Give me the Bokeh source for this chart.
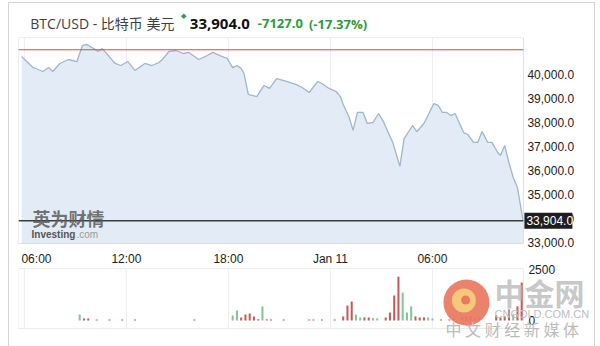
import pandas as pd
from bokeh.plotting import figure
from bokeh.layouts import column
from bokeh.models import Range1d
from bokeh.embed import file_html
from bokeh.resources import INLINE
from bokeh.core.properties import value

# ---------------- data ----------------
price_times = [
    "2021-01-10 05:50", "2021-01-10 06:30", "2021-01-10 06:40", "2021-01-10 07:05", "2021-01-10 07:25",
    "2021-01-10 07:40", "2021-01-10 08:05", "2021-01-10 08:35", "2021-01-10 09:05", "2021-01-10 09:25",
    "2021-01-10 09:40", "2021-01-10 10:05", "2021-01-10 10:20", "2021-01-10 10:35", "2021-01-10 11:20",
    "2021-01-10 11:40", "2021-01-10 12:05", "2021-01-10 12:30", "2021-01-10 13:05", "2021-01-10 13:30",
    "2021-01-10 13:55", "2021-01-10 14:10", "2021-01-10 14:30", "2021-01-10 14:55", "2021-01-10 15:20",
    "2021-01-10 15:40", "2021-01-10 16:15", "2021-01-10 16:45", "2021-01-10 17:05", "2021-01-10 17:30",
    "2021-01-10 17:55", "2021-01-10 18:15", "2021-01-10 18:30", "2021-01-10 18:45", "2021-01-10 18:55",
    "2021-01-10 19:10", "2021-01-10 19:40", "2021-01-10 20:05", "2021-01-10 20:25", "2021-01-10 20:50",
    "2021-01-10 21:25", "2021-01-10 22:00", "2021-01-10 22:20", "2021-01-10 22:45", "2021-01-10 23:15",
    "2021-01-10 23:30", "2021-01-10 23:55", "2021-01-11 00:20", "2021-01-11 00:35", "2021-01-11 00:45",
    "2021-01-11 01:05", "2021-01-11 01:20", "2021-01-11 01:35", "2021-01-11 01:55", "2021-01-11 02:10",
    "2021-01-11 02:30", "2021-01-11 02:50", "2021-01-11 03:05", "2021-01-11 03:40", "2021-01-11 04:05",
    "2021-01-11 04:20", "2021-01-11 04:50", "2021-01-11 05:05", "2021-01-11 05:30", "2021-01-11 06:05",
    "2021-01-11 06:20", "2021-01-11 06:35", "2021-01-11 06:50", "2021-01-11 07:05", "2021-01-11 07:20",
    "2021-01-11 07:50", "2021-01-11 08:05", "2021-01-11 08:25", "2021-01-11 08:40", "2021-01-11 08:55",
    "2021-01-11 09:15", "2021-01-11 09:30", "2021-01-11 09:50", "2021-01-11 10:00", "2021-01-11 10:15",
    "2021-01-11 10:30", "2021-01-11 10:45", "2021-01-11 11:00", "2021-01-11 11:20",
]
price_values = [
    40750, 40290, 40250, 40125, 40290,
    40125, 40460, 40625, 40540, 41210,
    41250, 41080, 40960, 41080, 40460,
    40375, 40540, 40170, 40460, 40375,
    40500, 40670, 40960, 41000, 40875,
    40920, 40625, 40790, 40920, 40790,
    40670, 40290, 40375, 40250, 40040,
    39170, 39080, 39540, 39420, 39830,
    39710, 39580, 39460, 39250, 39710,
    39625, 39420, 39290, 39080, 38750,
    38250, 37670, 38420, 38420, 37960,
    38000, 38375, 38080, 37170, 36170,
    37330, 37875, 37625, 37960, 38790,
    38710, 38420, 38420, 38290, 38375,
    37580, 37500, 37170, 37170, 37625,
    37170, 37170, 36750, 36625, 37040,
    36330, 35710, 35290, 33904,
]
prev_close = 41031.0
last_price = 33904.0
change = -7127.0
change_pct = -17.37

vol_times = [
    "2021-01-10 09:15", "2021-01-10 09:30", "2021-01-10 09:45", "2021-01-10 10:15", "2021-01-10 11:00",
    "2021-01-10 11:45", "2021-01-10 12:30", "2021-01-10 16:00", "2021-01-10 18:15", "2021-01-10 18:30",
    "2021-01-10 18:45", "2021-01-10 19:00", "2021-01-10 19:15", "2021-01-10 19:30", "2021-01-10 19:45",
    "2021-01-10 20:00", "2021-01-10 20:15", "2021-01-10 20:30", "2021-01-10 21:15", "2021-01-10 22:45",
    "2021-01-10 23:00", "2021-01-10 23:30", "2021-01-11 00:15", "2021-01-11 00:45", "2021-01-11 01:00",
    "2021-01-11 01:15", "2021-01-11 01:30", "2021-01-11 01:45", "2021-01-11 02:00", "2021-01-11 02:15",
    "2021-01-11 02:30", "2021-01-11 02:45", "2021-01-11 03:15", "2021-01-11 03:30", "2021-01-11 03:45",
    "2021-01-11 04:00", "2021-01-11 04:15", "2021-01-11 04:30", "2021-01-11 04:45", "2021-01-11 05:00",
    "2021-01-11 05:15", "2021-01-11 05:30", "2021-01-11 05:45", "2021-01-11 06:00", "2021-01-11 06:30",
    "2021-01-11 07:00", "2021-01-11 07:15", "2021-01-11 07:45", "2021-01-11 08:00", "2021-01-11 08:15",
    "2021-01-11 08:30", "2021-01-11 08:45", "2021-01-11 09:45", "2021-01-11 10:00", "2021-01-11 10:15",
    "2021-01-11 10:30", "2021-01-11 10:45", "2021-01-11 11:00", "2021-01-11 11:15",
]
vol_values = [
    290, 100, 100, 50, 50,
    50, 50, 50, 250, 490,
    150, 290, 340, 200, 60,
    690, 60, 50, 50, 50,
    50, 50, 50, 200, 735,
    930, 290, 150, 150, 150,
    120, 100, 150, 390, 1225,
    2150, 1370, 390, 690, 200,
    150, 150, 150, 100, 50,
    50, 150, 150, 200, 200,
    120, 200, 250, 150, 200,
    540, 300, 690, 1860,
]
vol_dir = [
    1, -1, -1, -1, -1,
    -1, -1, -1, 1, 1,
    -1, -1, -1, -1, -1,
    1, -1, -1, -1, -1,
    -1, -1, -1, -1, -1,
    -1, 1, 1, -1, -1,
    1, 1, -1, -1, -1,
    -1, 1, 1, 1, -1,
    -1, -1, 1, 1, -1,
    -1, 1, -1, -1, -1,
    -1, 1, -1, -1, -1,
    -1, 1, -1, -1,
]

tick_hours = [6, 12, 18, 24, 30]
tick_labels = ["06:00", "12:00", "18:00", "Jan 11", "06:00"]
price_ticks = [33000, 34000, 35000, 36000, 37000, 38000, 39000, 40000]
vol_ticks = [0, 2500]

# ---------------- helpers / layout constants ----------------
t0 = pd.Timestamp("2021-01-10 00:00")


def hours(ts):
    return [(pd.Timestamp(t) - t0).total_seconds() / 3600.0 for t in ts]


px = hours(price_times)
vx = hours(vol_times)

PX_PER_H = 17.0
X0, X1 = 5.65, 35.35                  # plotted time window (hours since Jan 10 00:00)
XMAX = X0 + 576 / PX_PER_H            # frame extends under the right-hand labels
P_PER_PX = 41.667                     # price units per pixel
P_LO, P_HI = 32958, 41542             # price plot box
P_FRAME_LO = P_LO - 7 * P_PER_PX      # frame reaches a little below the box
V_PER_PX = 49.02                      # volume units per pixel
V_LO, V_HI = -26 * V_PER_PX, 70 * V_PER_PX
V_BOX_LO, V_BOX_HI = -8 * V_PER_PX, 52 * V_PER_PX

AXIS_FONT = "Liberation Sans, Arial, sans-serif"
TITLE_FONT = "Open Sans, Noto Sans CJK SC, sans-serif"
CJK_FONT = "Noto Sans CJK SC, sans-serif"


def dx(pixels):
    return pixels / PX_PER_H


def style(fig):
    fig.background_fill_color = "white"
    fig.border_fill_color = "white"
    fig.outline_line_color = None
    fig.xgrid.grid_line_color = None
    fig.ygrid.grid_line_color = None


# ---------------- header ----------------
h = figure(width=585, height=33, x_range=Range1d(0, 585), y_range=Range1d(0, 33),
           output_backend="svg", toolbar_location=None, title=None,
           x_axis_location=None, y_axis_location=None,
           min_border_left=0, min_border_right=0, min_border_top=0, min_border_bottom=0)
style(h)
hy = 13
h.text(x=[12], y=[hy], text=["BTC/USD - 比特币 美元"], text_font=value(TITLE_FONT),
       text_font_size="14px", text_color="#3e3e3e", text_baseline="middle")
h.text(x=[165], y=[21], text=["◆"], text_font=value(AXIS_FONT),
       text_font_size="7px", text_color="#2c9c4a", text_baseline="middle")
h.text(x=[174], y=[hy], text=[f"{last_price:,.1f}"], text_font=value(TITLE_FONT),
       text_font_size="15px", text_font_style="bold", text_color="#111111", text_baseline="middle")
h.text(x=[243], y=[hy], text=[f"{change:.1f}"], text_font=value(TITLE_FONT),
       text_font_size="13px", text_font_style="bold", text_color="#2e9a3c", text_baseline="middle")
h.text(x=[295], y=[hy], text=[f"({change_pct:.2f}%)"], text_font=value(TITLE_FONT),
       text_font_size="13px", text_font_style="bold", text_color="#2e9a3c", text_baseline="middle")

# ---------------- price figure ----------------
p = figure(width=585, height=214, x_range=Range1d(X0, XMAX), y_range=Range1d(P_FRAME_LO, P_HI),
           output_backend="svg", toolbar_location=None, title=None,
           x_axis_location=None, y_axis_location=None,
           min_border_left=9, min_border_right=0, min_border_top=1, min_border_bottom=0)
style(p)

p.segment(x0=tick_hours, y0=P_LO, x1=tick_hours, y1=P_HI, line_color="#eceff3", line_width=1)
p.varea(x=px, y1=P_LO, y2=price_values, fill_color="#e3ecf6")
p.line(px, price_values, line_color="#9fb6cb", line_width=1.3)
p.quad(left=X0, right=X1, bottom=P_LO, top=P_HI, fill_color=None, line_color="#dedede", line_width=1)

p.segment(x0=X0, y0=prev_close, x1=X1, y1=prev_close, line_color="#cc4d4d", line_width=1.2)
p.segment(x0=X0, y0=last_price, x1=X1, y1=last_price, line_color="#3c3c3c", line_width=1.5)

# price axis labels
p.text(x=[X1 + dx(4)] * len(price_ticks), y=price_ticks,
       text=[f"{t:,.1f}" for t in price_ticks], text_font=value(AXIS_FONT),
       text_font_size="12px", text_color="#222222", text_baseline="middle")
# current price tag
p.quad(left=X1 + dx(1), right=X1 + dx(49), bottom=last_price - 8 * P_PER_PX,
       top=last_price + 8 * P_PER_PX, fill_color="#1e1e1e", line_color=None)
p.text(x=[X1 + dx(3)], y=[last_price], text=[f"{last_price:,.1f}"], text_font=value(AXIS_FONT),
       text_font_size="12px", text_color="white", text_baseline="middle")

# watermark (Investing)
p.text(x=[X0 + dx(14)], y=[P_LO + 26 * P_PER_PX], text=["英为财情"], text_font=value(CJK_FONT),
       text_font_size="18px", text_font_style="bold", text_color="#5c5c5c", text_alpha=0.85,
       text_baseline="middle")
p.text(x=[X0 + dx(13)], y=[P_LO + 9 * P_PER_PX], text=["Investing"], text_font=value(AXIS_FONT),
       text_font_size="10px", text_font_style="bold", text_color="#555555", text_baseline="middle")
p.text(x=[X0 + dx(58)], y=[P_LO + 9 * P_PER_PX], text=[".com"], text_font=value(AXIS_FONT),
       text_font_size="10px", text_color="#9a9a9a", text_baseline="middle")

# ---------------- volume figure ----------------
v = figure(width=585, height=96, x_range=Range1d(X0, XMAX), y_range=Range1d(V_LO, V_HI),
           output_backend="svg", toolbar_location=None, title=None,
           x_axis_location=None, y_axis_location=None,
           min_border_left=9, min_border_right=0, min_border_top=0, min_border_bottom=0)
style(v)

v.segment(x0=tick_hours, y0=V_BOX_LO, x1=tick_hours, y1=V_BOX_HI, line_color="#eeeeee", line_width=1)
v.quad(left=X0, right=X1, bottom=V_BOX_LO, top=V_BOX_HI, fill_color=None, line_color="#ececec")

bar_colors = ["#86c29b" if d > 0 else "#c65a5a" for d in vol_dir]
v.vbar(x=vx, top=vol_values, bottom=0, width=0.12, fill_color=bar_colors, line_color=None)

# time axis labels (first label kept inside the box, as in the original)
lab_y = V_HI - 8 * V_PER_PX
v.text(x=[tick_hours[0] - dx(3)], y=[lab_y], text=[tick_labels[0]], text_font=value(AXIS_FONT),
       text_font_size="12px", text_color="#222222", text_baseline="middle", text_align="left")
v.text(x=tick_hours[1:], y=[lab_y] * (len(tick_hours) - 1), text=tick_labels[1:],
       text_font=value(AXIS_FONT), text_font_size="12px", text_color="#222222",
       text_baseline="middle", text_align="center")

# volume axis labels
v.text(x=[X1 + dx(5)] * len(vol_ticks), y=vol_ticks, text=[str(t) for t in vol_ticks],
       text_font=value(AXIS_FONT), text_font_size="12px", text_color="#222222",
       text_baseline="middle")

# watermark (cngold)
v.scatter(x=[32.0], y=[880], size=46, marker="circle", fill_color="#e9785f", line_color=None, fill_alpha=0.92)
v.scatter(x=[31.85], y=[980], size=24, marker="circle", fill_color="#f6c879", line_color=None)
v.scatter(x=[31.95], y=[1000], size=9, marker="circle", fill_color="#e9785f", line_color=None)
v.text(x=[X0 + dx(476)], y=[29 * V_PER_PX], text=["中金网"], text_font=value(CJK_FONT),
       text_font_size="30px", text_font_style="bold", text_color="#b9b9b9", text_alpha=0.8,
       text_baseline="middle")
v.text(x=[X0 + dx(476)], y=[7 * V_PER_PX], text=["CNGOLD.COM.CN"], text_font=value(AXIS_FONT),
       text_font_size="11px", text_color="#bdbdbd", text_baseline="middle")
v.text(x=[X0 + dx(427)], y=[-8 * V_PER_PX], text=["中 文 财 经 新 媒 体"], text_font=value(CJK_FONT),
       text_font_size="16px", text_color="#bbbbbb", text_baseline="middle")

layout = column(h, p, v, margin=(2, 0, 0, 8),
                styles={"border-left": "1px solid #d5d5d5", "border-right": "1px solid #d5d5d5",
                        "border-top": "1px solid #d5d5d5"})

open("out.html", "w").write(file_html(layout, INLINE))
